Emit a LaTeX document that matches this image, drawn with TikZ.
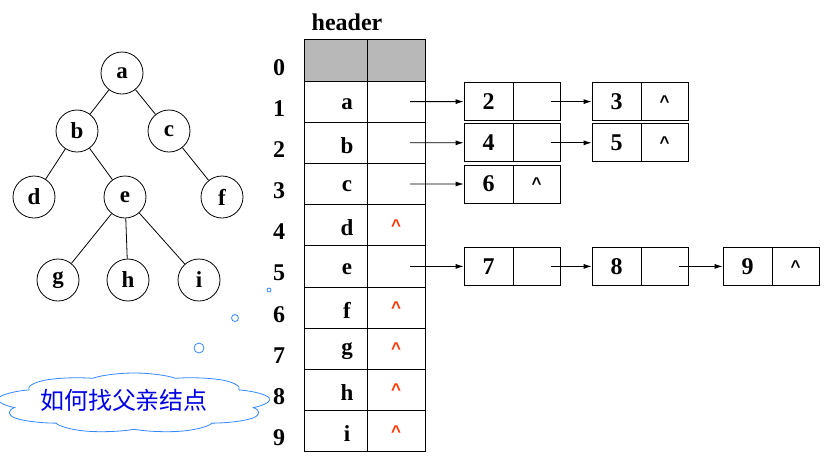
\documentclass[tikz,border=0pt]{standalone}
\usepackage{fontspec}
\setmainfont{Liberation Serif}
\newfontfamily\caretfont{Liberation Sans}
\newfontfamily\cjk{Noto Sans CJK SC}
\usetikzlibrary{shapes.symbols,arrows.meta}
\definecolor{cloudblue}{RGB}{51,136,255}
\definecolor{askblue}{RGB}{0,0,230}
\definecolor{nilred}{RGB}{255,51,0}
\newcommand{\nilptr}{{\caretfont\fontsize{17}{17}\selectfont\textasciicircum}}
\tikzset{
  tnode/.style={draw, circle, minimum size=42pt, inner sep=0pt, line width=0.8pt,
    font=\fontsize{23}{26}\selectfont\bfseries},
  cell/.style={draw, rectangle, minimum height=41.2pt, inner sep=0pt, line width=0.8pt,
    font=\fontsize{23}{26}\selectfont\bfseries},
  datacell/.style={cell, minimum width=63pt},
  ptrcell/.style={cell, minimum width=58pt, text=nilred},
  idx/.style={font=\fontsize{24}{26}\selectfont\bfseries},
  valcell/.style={cell, minimum width=49pt, minimum height=38pt, font=\fontsize{24}{26}\selectfont\bfseries},
  linkcell/.style={cell, minimum width=47pt, minimum height=38pt},
  ptr/.style={-{Latex[length=8pt,width=5pt]}, line width=0.8pt},
  bubble/.style={draw=cloudblue, circle, inner sep=0pt, line width=0.8pt}
}
\begin{document}
\begin{tikzpicture}[x=1pt, y=-1pt]
  \useasboundingbox (0,0) rectangle (825,459);

  % Define nodes
  \node[tnode] (a) at (122,73) {a};
  \node[tnode] (b) at (77,131) {b};
  \node[tnode] (c) at (169,131) {c};
  \node[tnode] (d) at (34,197) {d};
  \node[tnode] (e) at (125,197) {e};
  \node[tnode] (f) at (222,197) {f};
  \node[tnode] (g) at (58,280) {g};
  \node[tnode] (h) at (128,280) {h};
  \node[tnode] (i) at (199,280) {i};

  % Draw edges
  \draw[line width=0.8pt] (a) -- (b);
  \draw[line width=0.8pt] (a) -- (c);
  \draw[line width=0.8pt] (b) -- (d);
  \draw[line width=0.8pt] (b) -- (e);
  \draw[line width=0.8pt] (c) -- (f);
  \draw[line width=0.8pt] (e) -- (g);
  \draw[line width=0.8pt] (e) -- (h);
  \draw[line width=0.8pt] (e) -- (i);

  % header table
  \node[font=\fontsize{24}{26}\selectfont\bfseries] (hdr) at (347,22) {header};
  \node[datacell, minimum height=42pt, fill=black!28] (r0) at (335.5,60) {};
  \node[ptrcell, minimum height=42pt, fill=black!28] (p0) at (396,60) {};
  \node[idx] (idx0) at (279,68) {0};
  \foreach \ltr/\ptr [count=\k] in {a/{},b/{},c/{},d/\nilptr,e/{},f/\nilptr,g/\nilptr,h/\nilptr,i/\nilptr} {
    \node[datacell] (r\k) at (335.5,{81+41.2*\k-20.6}) {};
    \node[font=\fontsize{23}{26}\selectfont\bfseries] (t\k) at (347,{81+41.2*\k-18}) {\ltr};
    \node[ptrcell] (p\k) at (396,{81+41.2*\k-20.6}) {\ptr};
    \node[idx] (idx\k) at (279,{81+41.2*\k-14}) {\k};
  }

  % child lists
  \foreach \nm/\x/\y/\val/\lnk in {2/488.5/101.6/2/{}, 3/616.5/101.6/3/\nilptr,
      4/488.5/142.8/4/{}, 5/616.5/142.8/5/\nilptr, 6/488.5/184/6/\nilptr,
      7/488.5/266.4/7/{}, 8/616.5/266.4/8/{}, 9/747.5/266.4/9/\nilptr} {
    \node[valcell] (v\nm) at (\x,\y) {\val};
    \node[linkcell] (l\nm) at ({\x+48},\y) {\lnk};
  }

  % Draw pointers
  \draw[ptr] ([xshift=14pt]p1.center) -- (v2.west);
  \draw[ptr] ([xshift=14pt]l2.center) -- (v3.west);
  \draw[ptr] ([xshift=14pt]p2.center) -- (v4.west);
  \draw[ptr] ([xshift=14pt]l4.center) -- (v5.west);
  \draw[ptr] ([xshift=14pt]p3.center) -- (v6.west);
  \draw[ptr] ([xshift=14pt]p5.center) -- (v7.west);
  \draw[ptr] ([xshift=14pt]l7.center) -- (v8.west);
  \draw[ptr] ([xshift=14pt]l8.center) -- (v9.west);

  % thought cloud
  \node[bubble, minimum size=4pt] (dot1) at (269,290) {};
  \node[bubble, minimum size=7pt] (dot2) at (235,318) {};
  \node[bubble, minimum size=10pt] (dot3) at (199,348) {};
  \node[cloud, cloud puffs=9, cloud puff arc=120, aspect=1, draw=cloudblue, fill=white,
    line width=0.8pt, minimum width=61pt, minimum height=60pt, inner sep=0pt,
    xscale=4.5, transform shape] (ask) at (134,403) {};
  \node[text=askblue, font=\cjk\fontsize{24}{25}\selectfont] (asktext) at (124,400) {如何找父亲结点};
\end{tikzpicture}
\end{document}
